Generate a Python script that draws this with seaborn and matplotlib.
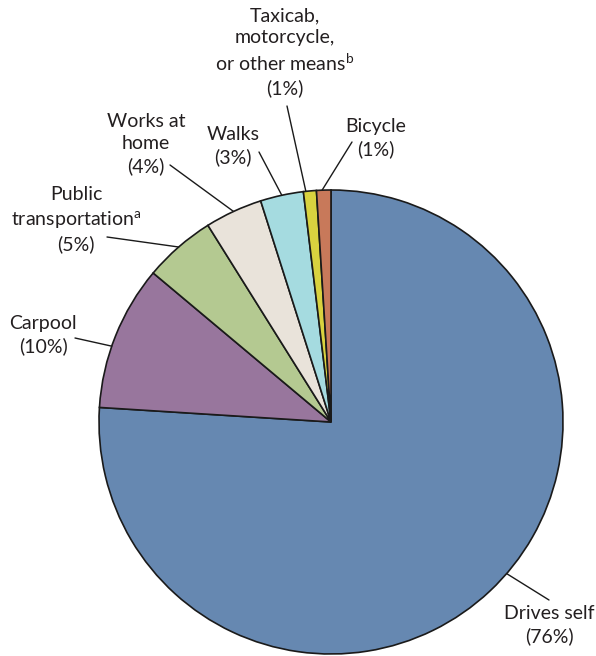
import numpy as np
import matplotlib
matplotlib.use("Agg")
import matplotlib.pyplot as plt
import seaborn as sns

# commute shares (percent), clockwise from 12 o'clock
modes = ["Drives self", "Carpool", "Public transportation", "Works at home",
         "Walks", "Taxicab, motorcycle, or other means", "Bicycle"]
shares = [76.0, 10.1, 5.0, 4.0, 3.0, 0.9, 1.0]
labels = ["Drives self\n(76%)", "Carpool\n(10%)", "Public\ntransportation$^{\\mathrm{a}}$\n(5%)",
          "Works at\nhome\n(4%)", "Walks\n(3%)",
          "Taxicab,\nmotorcycle,\nor other means$^{\\mathrm{b}}$\n(1%)", "Bicycle\n(1%)"]
colors = ["#6688b1", "#98769d", "#b4c991", "#e9e3da", "#a5dbe0", "#d9d23f", "#c8795a"]

sns.set_style("white")
plt.rcParams['font.family'] = ['Lato', 'DejaVu Sans']
plt.rcParams['mathtext.fontset'] = 'custom'
plt.rcParams['mathtext.rm'] = 'Lato'

fig = plt.figure(figsize=(5.96, 6.56), dpi=100)
ax = fig.add_axes([0, 0, 1, 1])

wedges, _ = ax.pie(shares, colors=colors, startangle=90, counterclock=False,
                   radius=1.0, wedgeprops=dict(edgecolor="#1a1a1a", linewidth=1.2))

# label placement (data units, pie radius = 1) and leader tip angle nudges
R = 232.0
cx, cy = 331, 422
text_px = [(549, 625), (43, 335), (76, 220), (146, 144), (233, 146), (285, 52), (376, 138)]
tip_shift = [6, 2.7, 0, 0, 0, 1, 0.4]
line_start_px = [(549, 600), (75, 338), (107, 237), (170, 165), (259, 152), (287, 106), (352, 142)]

for w, lab, (tx, ty), dshift, (lx, ly) in zip(wedges, labels, text_px, tip_shift, line_start_px):
    ang = np.deg2rad((w.theta1 + w.theta2) / 2 + dshift)
    tip = (np.cos(ang), np.sin(ang))
    ax.plot([(lx - cx) / R, tip[0]], [(cy - ly) / R, tip[1]], color="#1a1a1a", lw=1.0)
    ax.text((tx - cx) / R, (cy - ty) / R, lab, ha="center", va="center",
            fontsize=14, color="#231f20", linespacing=1.33)

ax.set_xlim(-cx / R, (596 - cx) / R)
ax.set_ylim(-(656 - cy) / R, cy / R)
ax.set_aspect("equal")
ax.axis("off")

fig.savefig("out.png", dpi=100)
